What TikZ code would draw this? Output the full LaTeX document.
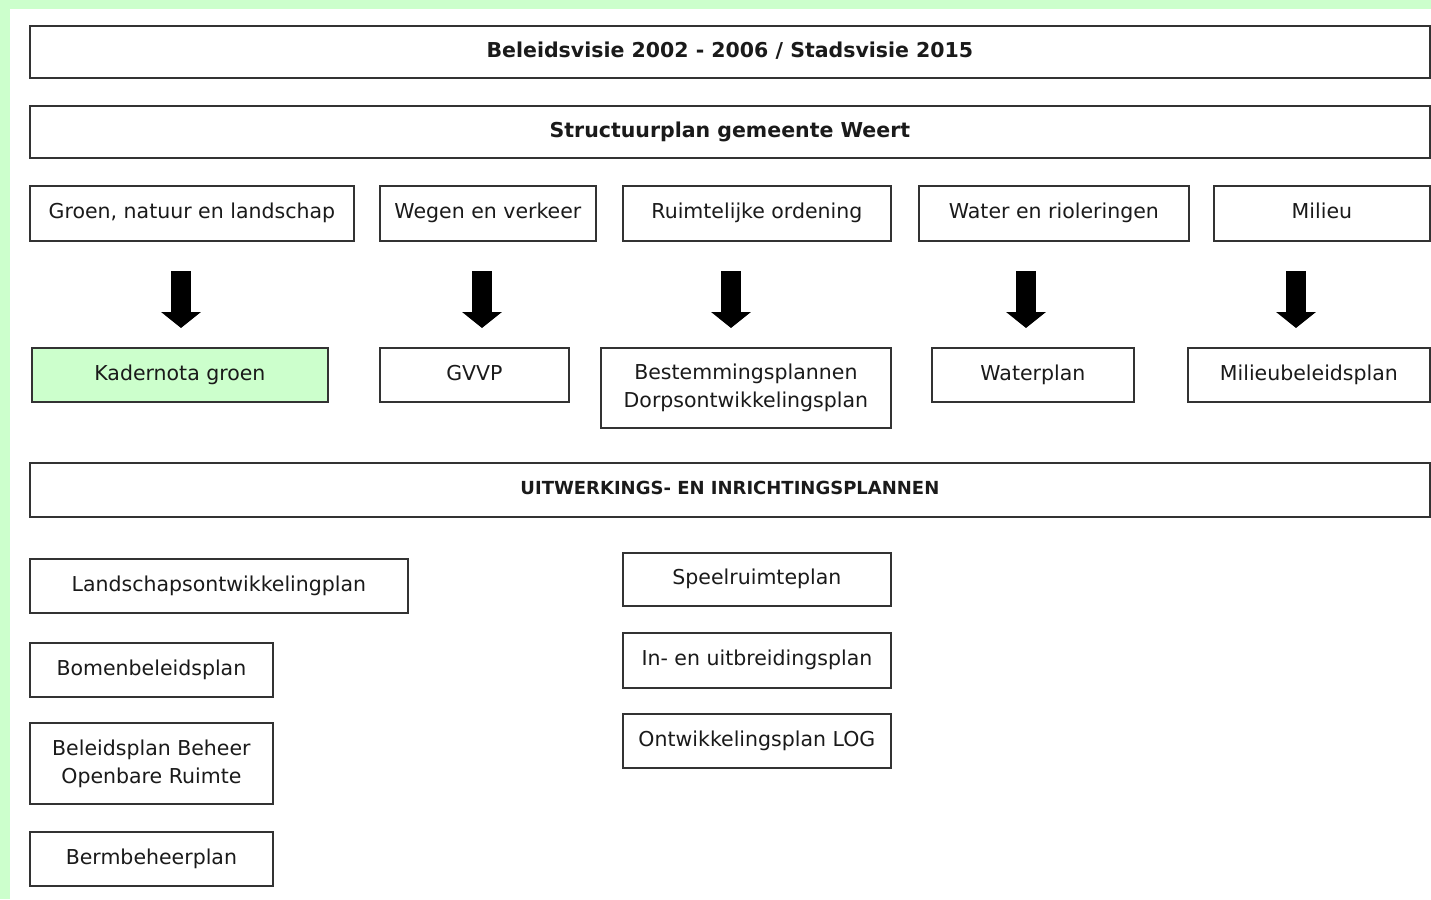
\documentclass[tikz,border=0pt]{standalone}
\usepackage{fontspec}
\setmainfont{DejaVu Sans}
\usetikzlibrary{arrows.meta}
\definecolor{bggreen}{HTML}{CCFFCC}
\definecolor{boxline}{HTML}{333333}
\definecolor{txt}{HTML}{1A1A1A}
\tikzset{
  box2/.style={draw=boxline, line width=1.8pt, fill=white, inner sep=0pt, anchor=north west,
    align=center, text=txt, font=\fontsize{20.5}{28}\selectfont},
  box/.style={box2, text height=15.5pt, text depth=4.5pt},
  boldbox/.style={box, font=\bfseries\fontsize{20.5}{28}\selectfont},
  greenbox/.style={box, fill=bggreen},
  bigarrow/.style={draw=black, line width=20pt, -{Triangle[width=39pt,length=16pt]}}
}
\newcommand{\mybox}[6]{% style, name, x1, y1, x2, y2 ; text after
  \node[#1, minimum width={#5-#3}, minimum height={#6-#4}] (#2) at (#3,#4)}
\begin{document}
\begin{tikzpicture}[x=1pt,y=-1pt]
\useasboundingbox (0,0) rectangle (1431,899);
\fill[bggreen] (0,0) rectangle (1431,9);
\fill[bggreen] (0,0) rectangle (10,899);

\mybox{boldbox}{t1}{29}{25}{1429}{77} {Beleidsvisie 2002 - 2006 / Stadsvisie 2015};
\mybox{boldbox}{t2}{29}{105}{1429}{157} {Structuurplan gemeente Weert};

\mybox{box}{g}{29}{185}{353}{240} {Groen, natuur en landschap};
\mybox{box}{w}{379}{185}{595}{240} {Wegen en verkeer};
\mybox{box}{r}{622}{185}{890}{240} {Ruimtelijke ordening};
\mybox{box}{wr}{918}{185}{1188}{240} {Water en rioleringen};
\mybox{box}{m}{1213}{185}{1429}{240} {Milieu};

\mybox{greenbox}{k}{31}{347}{327}{401} {Kadernota groen};
\mybox{box}{gv}{379}{347}{568}{401} {GVVP};
\mybox{box2}{b}{600}{347}{890}{427} {Bestemmingsplannen\\Dorpsontwikkelingsplan};
\mybox{box}{wp}{931}{347}{1133}{401} {Waterplan};
\mybox{box}{mb}{1187}{347}{1429}{401} {Milieubeleidsplan};

\node[box, font=\bfseries\fontsize{18}{24}\selectfont, text height=13.5pt, text depth=4pt, minimum width=1400, minimum height=54] (u) at (29,462) {UITWERKINGS- EN INRICHTINGSPLANNEN};

\mybox{box}{l1}{29}{558}{407}{612} {Landschapsontwikkelingplan};
\mybox{box}{l2}{29}{642}{272}{696} {Bomenbeleidsplan};
\mybox{box2}{l3}{29}{722}{272}{803} {Beleidsplan Beheer\\Openbare Ruimte};
\mybox{box}{l4}{29}{831}{272}{885} {Bermbeheerplan};

\mybox{box}{c1}{622}{552}{890}{605} {Speelruimteplan};
\mybox{box}{c2}{622}{632}{890}{687} {In- en uitbreidingsplan};
\mybox{box}{c3}{622}{713}{890}{767} {Ontwikkelingsplan LOG};

\coordinate (a1s) at (181,271); \coordinate (a1e) at (181,328);
\coordinate (a2s) at (482,271); \coordinate (a2e) at (482,328);
\coordinate (a3s) at (731,271); \coordinate (a3e) at (731,328);
\coordinate (a4s) at (1026,271); \coordinate (a4e) at (1026,328);
\coordinate (a5s) at (1296,271); \coordinate (a5e) at (1296,328);
\draw[bigarrow] (a1s) -- (a1e);
\draw[bigarrow] (a2s) -- (a2e);
\draw[bigarrow] (a3s) -- (a3e);
\draw[bigarrow] (a4s) -- (a4e);
\draw[bigarrow] (a5s) -- (a5e);
\end{tikzpicture}
\end{document}
